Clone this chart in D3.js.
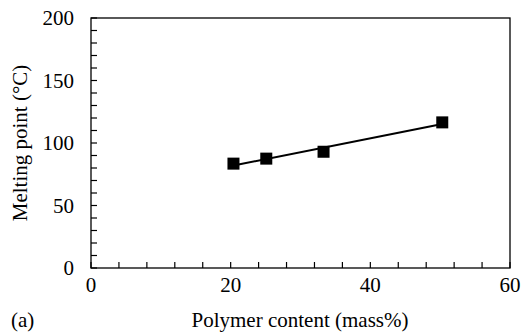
<!DOCTYPE html>
<html>
<head>
<meta charset="utf-8">
<script src="https://cdn.jsdelivr.net/npm/d3@7"></script>
</head>
<body style="margin:0">
<script>
// data
var polymer = [20.4, 25.1, 33.3, 50.3];
var meltPoint = [83.5, 87.5, 93, 116.5];
var xMajor = [0, 20, 40, 60];
var yMajor = [0, 50, 100, 150, 200];

var width = 522, height = 333;
var margin = {left: 91, right: 12, top: 18, bottom: 65};
var serif = "'Times New Roman', 'Liberation Serif', Tinos, Times, serif";
var fs = 21;

var svg = d3.select("body").append("svg")
    .attr("width", width)
    .attr("height", height)
    .style("font-family", serif);

var x = d3.scaleLinear().domain([0, 60]).range([margin.left, width - margin.right]);
var y = d3.scaleLinear().domain([0, 200]).range([height - margin.bottom, margin.top]);

//frame
svg.append("rect")
    .attr("x", x(0)).attr("y", y(200))
    .attr("width", x(60) - x(0)).attr("height", y(0) - y(200))
    .attr("fill", "none").attr("stroke", "#000").attr("stroke-width", 1.3);

//minor ticks, pointing inward
svg.selectAll(".ytick").data(d3.range(0, 201, 10)).enter().append("line")
    .attr("x1", x(0)).attr("x2", x(0) + 6)
    .attr("y1", d => y(d)).attr("y2", d => y(d))
    .attr("stroke", "#000").attr("stroke-width", 1.2);
svg.selectAll(".xtick").data(d3.range(0, 61, 4)).enter().append("line")
    .attr("x1", d => x(d)).attr("x2", d => x(d))
    .attr("y1", y(0)).attr("y2", y(0) - 6)
    .attr("stroke", "#000").attr("stroke-width", 1.2);

//tick labels
svg.selectAll(".ylab").data(yMajor).enter().append("text")
    .attr("x", x(0) - 17).attr("y", d => y(d) + 7)
    .attr("text-anchor", "end")
    .attr("font-size", fs).style("font-family", serif)
    .text(d => d);
svg.selectAll(".xlab").data(xMajor).enter().append("text")
    .attr("x", d => x(d)).attr("y", y(0) + 24)
    .attr("text-anchor", "middle")
    .attr("font-size", fs).style("font-family", serif)
    .text(d => d);

//axis titles
svg.append("text")
    .attr("x", 300).attr("y", 327)
    .attr("text-anchor", "middle")
    .attr("font-size", fs).style("font-family", serif)
    .text("Polymer content (mass%)");
svg.append("text")
    .attr("transform", "translate(27," + ((y(0) + y(200)) / 2) + ") rotate(-90)")
    .attr("text-anchor", "middle")
    .attr("font-size", fs).style("font-family", serif)
    .text("Melting point (\u00B0C)");
svg.append("text")
    .attr("x", 11).attr("y", 327)
    .attr("font-size", fs).style("font-family", serif)
    .text("(a)");

//linear trend line
var pts = polymer.map((d, i) => [d, meltPoint[i]]);
var mx = d3.mean(polymer), my = d3.mean(meltPoint);
var slope = d3.sum(pts, p => (p[0] - mx) * (p[1] - my)) / d3.sum(pts, p => (p[0] - mx) * (p[0] - mx));
var icpt = my - slope * mx;
var ext = d3.extent(polymer);
svg.append("path")
    .datum(ext.map(v => [v, icpt + slope * v]))
    .attr("d", d3.line().x(d => x(d[0])).y(d => y(d[1])))
    .attr("fill", "none").attr("stroke", "#000").attr("stroke-width", 2);

//markers
var s = 12;
svg.selectAll(".pt").data(pts).enter().append("rect")
    .attr("x", d => x(d[0]) - s / 2).attr("y", d => y(d[1]) - s / 2)
    .attr("width", s).attr("height", s)
    .attr("fill", "#000");
</script>
</body>
</html>
